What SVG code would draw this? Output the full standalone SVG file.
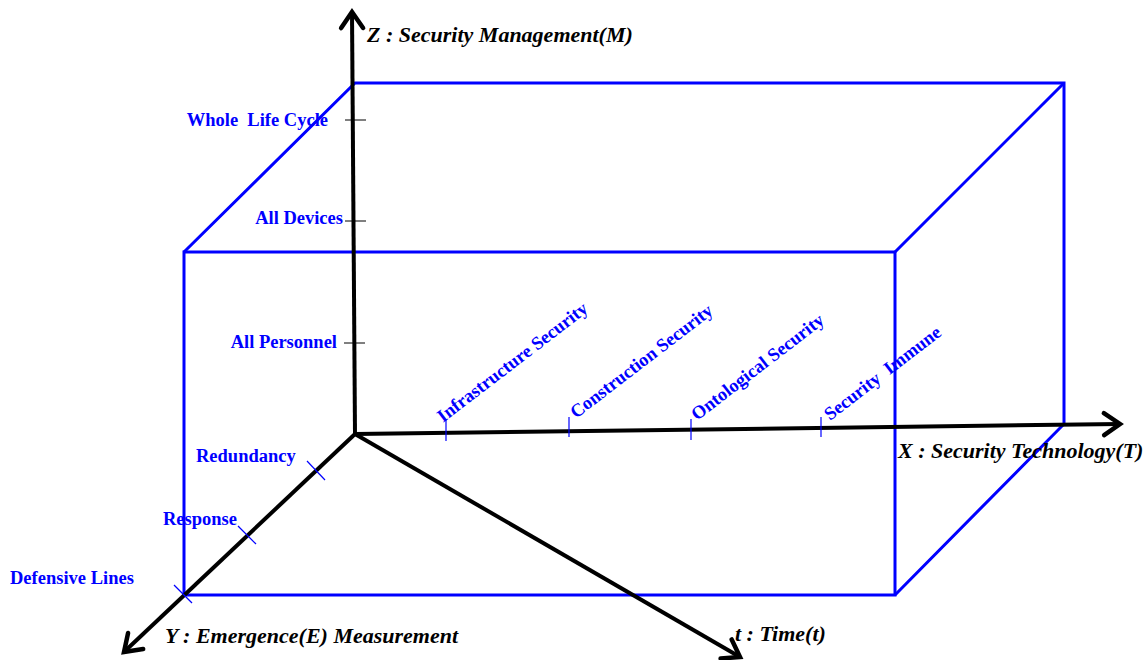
<svg xmlns="http://www.w3.org/2000/svg" width="1148" height="660" viewBox="0 0 1148 660">
<style>
.box{fill:none;stroke:#0000ff;stroke-width:3;stroke-linejoin:miter}
.axis{fill:none;stroke:#000;stroke-width:4}
.tickk{stroke:#000;stroke-width:1}
.tickb{stroke:#0000ff;stroke-width:1.2}
.lab{font-family:"Liberation Serif",serif;font-weight:bold;font-size:18.5px;fill:#0000ff}
.ax{font-family:"Liberation Serif",serif;font-weight:bold;font-style:italic;font-size:22px;fill:#000}
</style>
<defs>
<marker id="arr" markerUnits="userSpaceOnUse" markerWidth="30" markerHeight="30" viewBox="-20 -15 30 30" refX="0" refY="0" orient="auto">
<path d="M-16,-11 L0,0 L-16,11" fill="none" stroke="#000" stroke-width="4.5" stroke-linecap="round" stroke-linejoin="miter"/>
</marker>
</defs>
<g id="box">
<rect class="box" x="184" y="252" width="711" height="343"/>
<polyline class="box" points="184,252 355,83 1064,83 1064,424 895,595"/>
<line class="box" x1="895" y1="252" x2="1064" y2="83"/>
</g>
<g id="connectors">
<line class="axis" x1="355" y1="434" x2="352" y2="12" marker-end="url(#arr)"/>
<line class="axis" x1="355" y1="434" x2="1120" y2="424" marker-end="url(#arr)"/>
<line class="axis" x1="355" y1="434" x2="124" y2="652" marker-end="url(#arr)"/>
<line class="axis" x1="355" y1="434" x2="740" y2="657" marker-end="url(#arr)"/>
</g>
<g id="z-ticks">
<line class="tickk" x1="345" y1="120" x2="366" y2="120"/>
<line class="tickk" x1="345" y1="221" x2="366" y2="221"/>
<line class="tickk" x1="344" y1="343" x2="365" y2="343"/>
<text class="lab" x="328" y="126" text-anchor="end" xml:space="preserve">Whole  Life Cycle</text>
<text class="lab" x="343" y="224" text-anchor="end">All Devices</text>
<text class="lab" x="337" y="348" text-anchor="end">All Personnel</text>
</g>
<g id="y-ticks">
<line class="tickb" x1="307" y1="461" x2="325" y2="480"/>
<line class="tickb" x1="238" y1="526" x2="256" y2="544"/>
<line class="tickb" x1="174" y1="585" x2="192" y2="603"/>
<text class="lab" x="196" y="462">Redundancy</text>
<text class="lab" x="163" y="525">Response</text>
<text class="lab" x="10" y="584">Defensive Lines</text>
</g>
<g id="x-ticks">
<line class="tickb" x1="446" y1="420" x2="446" y2="441"/>
<line class="tickb" x1="569" y1="417" x2="569" y2="437"/>
<line class="tickb" x1="691" y1="419" x2="691" y2="440"/>
<line class="tickb" x1="821" y1="417" x2="821" y2="437"/>
<text class="lab" transform="translate(443,423) rotate(-37.5)">Infrastructure Security</text>
<text class="lab" transform="translate(576,419) rotate(-37.5)">Construction Security</text>
<text class="lab" transform="translate(697,421) rotate(-37.5)">Ontological Security</text>
<text class="lab" transform="translate(830,421) rotate(-37.5)" xml:space="preserve">Security  Immune</text>
</g>
<g id="axis-labels">
<text class="ax" x="367" y="42">Z : Security Management(M)</text>
<text class="ax" x="898" y="458">X : Security Technology(T)</text>
<text class="ax" x="165" y="643">Y : Emergence(E) Measurement</text>
<text class="ax" x="735" y="641">t : Time(t)</text>
</g>
</svg>
